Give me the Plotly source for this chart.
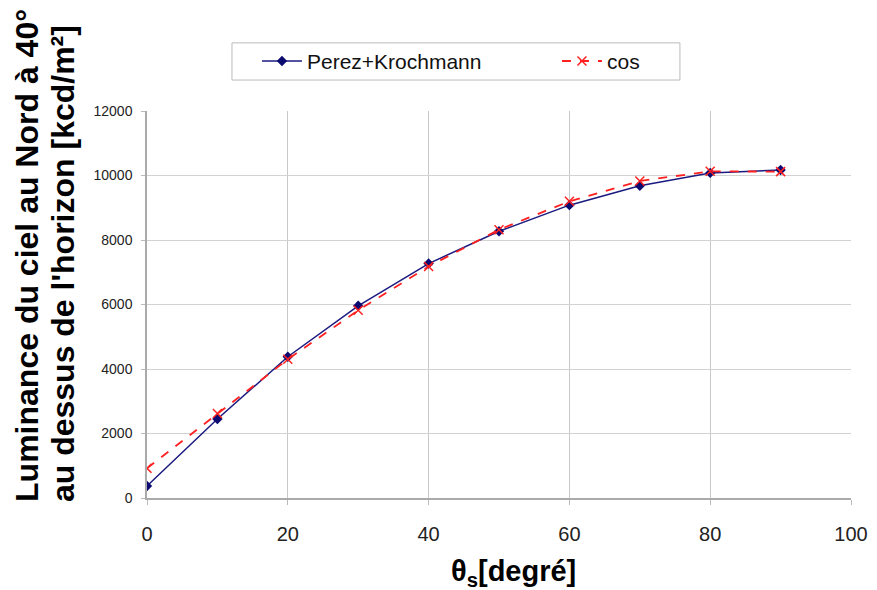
import plotly.graph_objects as go

theta = [0, 10, 20, 30, 40, 50, 60, 70, 80, 90]
perez = [370, 2450, 4380, 5960, 7270, 8270, 9080, 9680, 10080, 10170]
cos_vals = [920, 2620, 4300, 5820, 7180, 8320, 9200, 9830, 10130, 10120]

x_ticks = [0, 20, 40, 60, 80, 100]
y_ticks = [0, 2000, 4000, 6000, 8000, 10000, 12000]
y_ticklabels = [str(v) for v in y_ticks]

fig = go.Figure()
fig.add_trace(go.Scatter(
    x=theta, y=perez, name="Perez+Krochmann", mode="lines+markers",
    line=dict(color="#1a1a80", width=1.5),
    marker=dict(symbol="diamond", size=8, color="#0a0a70"),
))
fig.add_trace(go.Scatter(
    x=theta, y=cos_vals, name="cos", mode="lines+markers",
    line=dict(color="#ff2020", width=1.8, dash="dash"),
    marker=dict(symbol="x-thin", size=9, line=dict(color="#ff2020", width=1.5)),
))

fig.update_layout(
    width=877, height=590,
    margin=dict(l=147, r=26, t=111, b=92, autoexpand=False),
    paper_bgcolor="white", plot_bgcolor="white",
    font=dict(family="Liberation Sans, Arial, sans-serif", color="#222"),
    showlegend=True,
    legend=dict(
        orientation="h", xref="container", yref="container",
        x=0.293, xanchor="left", y=0.896, yanchor="middle",
        borderwidth=0, bgcolor="rgba(0,0,0,0)",
        font=dict(size=21, color="#111"), itemwidth=40, entrywidth=245,
    ),
    xaxis=dict(
        range=[0, 100], tickvals=x_ticks, showgrid=True, gridcolor="#c8c8c8",
        gridwidth=1, showline=True, linecolor="#aaaaaa", linewidth=1.5,
        ticks="outside", ticklen=5, tickcolor="#bbbbbb",
        tickfont=dict(size=20, color="#222"), ticklabelstandoff=12,
        zeroline=False,
    ),
    yaxis=dict(
        range=[0, 12000], tickvals=y_ticks, ticktext=y_ticklabels,
        showgrid=True, gridcolor="#d2d2d2",
        gridwidth=1, showline=True, linecolor="#aaaaaa", linewidth=1.5,
        ticks="outside", ticklen=4, tickcolor="#bbbbbb",
        tickfont=dict(size=14, color="#222"), ticklabelstandoff=6,
        zeroline=False,
    ),
    shapes=[dict(
        type="rect", xref="paper", yref="paper",
        x0=0.1207, x1=0.757, y0=1.080, y1=1.176,
        line=dict(color="#bbbbbb", width=1), fillcolor="rgba(0,0,0,0)",
    )],
)

fig.add_annotation(
    text="<b>Luminance du ciel au Nord à 40°</b>", xref="paper", yref="paper",
    x=-0.1705, y=0.628, xanchor="center", yanchor="middle", textangle=-90,
    showarrow=False, font=dict(size=32, color="black"),
)
fig.add_annotation(
    text="<b>au dessus de l'horizon [kcd/m²]</b>", xref="paper", yref="paper",
    x=-0.119, y=0.605, xanchor="center", yanchor="middle", textangle=-90,
    showarrow=False, font=dict(size=32, color="black"),
)
fig.add_annotation(
    text="<b>θ<sub>s</sub>[degré]</b>", xref="paper", yref="paper",
    x=0.52, y=-0.194, xanchor="center", yanchor="middle",
    showarrow=False, font=dict(size=29, color="black"),
)

fig.write_html("out.html")
